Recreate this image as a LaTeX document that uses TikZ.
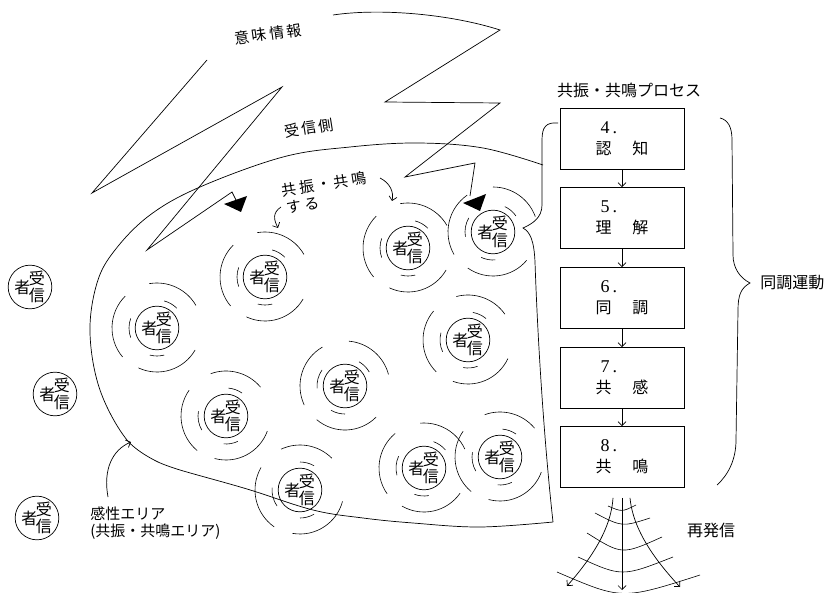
\documentclass[tikz,border=0pt]{standalone}
\usepackage{fontspec}
\setmainfont{Liberation Serif}
\newfontfamily\cjk{Noto Sans CJK JP}
\usetikzlibrary{arrows.meta}
% receiver mark: 者 on the left, 受/信 stacked on the right
\newcommand\jusinsha{\hspace{-1pt}者\hspace{-1.5pt}\raisebox{-0.5em}{\shortstack{受\\信}}}
\newcommand\gap{\hspace{2.5pt}}

\tikzset{
  ripple/.pic={
    % broken rings of arcs around a receiver (visual angles a..b, negated for the flipped y axis)
    \foreach \r/\a/\b in {28/160/200, 28/45/75, 28/255/285,
                          45/135/220, 45/30/100, 44/245/330}
      \draw[line width=0.6pt] (-\a:\r) arc[start angle=-\a, end angle=-\b, radius=\r];
  }
}

\begin{document}
\begin{tikzpicture}[x=1pt,y=-1pt,line width=0.7pt,
  recv/.style={circle,draw,minimum size=41pt,inner sep=0pt,
               font=\cjk\fontsize{16}{16}\selectfont},
  procbox/.style={draw,minimum width=124pt,minimum height=61pt,align=left,
                  inner sep=0pt,font=\fontsize{18}{21}\selectfont},
  jlabel/.style={inner sep=0pt,font=\cjk\fontsize{16}{19}\selectfont},
  tiltlabel/.style={inner sep=0pt,font=\cjk\fontsize{15}{18}\selectfont,rotate=9},
  arealabel/.style={inner sep=0pt,align=left,font=\cjk\fontsize{15}{17}\selectfont},
  barb/.style={-{Straight Barb[length=4pt,width=8pt]}},
  wave/.style={line width=0.6pt},
  bolt/.style={line width=0.7pt,line join=miter}]

\useasboundingbox (0,0) rectangle (826,593);

% ---------- lightning bolts (meaning information) ----------
\draw[bolt] (207,60) -- (92,193) -- (282,87) -- (147,250) -- (232,192) -- (236,200);
\fill (224,204) -- (247,196) -- (241,212) -- cycle;
\draw[bolt] (333,15) .. controls (380,8) and (450,14) .. (500,30)
  -- (385,102) -- (500,103) -- (405,177) -- (475,163) -- (470,196);
\fill (463,203) -- (486,194) -- (480,211) -- cycle;

% ---------- receiving side area ----------
\draw plot[smooth,tension=0.6] coordinates {(543,165) (483,148) (417,143) (350,147)
  (283,157) (200,187) (150,215) (115,250) (97,283) (90,333) (100,390) (127,440) (158,462)};
\draw plot[smooth,tension=0.6] coordinates {(158,462) (180,470) (247,489) (313,510)
  (363,518) (413,523) (480,527) (553,522)};

% left brace of the process, also closing the area on the right
\draw (558,123) .. controls (546,122) and (542,127) .. (542,140) -- (542,205)
  .. controls (542,218) and (532,224) .. (523,228)
  .. controls (530,232) and (534,240) .. (535,262)
  .. controls (538,350) and (545,450) .. (553,522);
% right brace
\draw (720,118) .. controls (728,120) and (732,127) .. (732,140) -- (733,255)
  .. controls (733,268) and (740,278) .. (750,283)
  .. controls (741,288) and (738,295) .. (738,310) -- (736,440)
  .. controls (736,460) and (728,475) .. (717,485);

% ---------- receivers ----------
\foreach \n/\x/\y in {rout1/30/287, rout2/55/394, rout3/37/518,
    rA/265/277, rB/157/328, rC/226/416, rD/345/386, rE/468/340,
    rF/408/248, rG/493/232, rH/300/490, rI/424/468, rJ/500/457}
  \node[recv] (\n) at (\x,\y) {\jusinsha};
\foreach \n/\rot in {rA/0, rB/0, rC/10, rD/-15, rE/5, rF/0, rG/-10, rH/15, rI/-5, rJ/10}
  \pic[rotate=\rot] at (\n) {ripple};

% ---------- labels ----------
\node[tiltlabel,rotate=-1] (imi) at (268,34) {意\gap 味\gap 情\gap 報};
\node[tiltlabel] (jside) at (309,128) {受\gap 信\gap 側};
\node[tiltlabel] (kyo) at (324,184) {共\gap 振\gap ・\gap 共\gap 鳴};
\node[tiltlabel] (suru) at (303,205) {す\gap る};
\node[arealabel,anchor=west] (area) at (90,523) {感性エリア\\(共振・共鳴エリア)};
\node[jlabel] (proc) at (629,90) {共振・共鳴プロセス};
\node[jlabel,anchor=west] (dochou) at (760,283) {同調運動};
\node[jlabel] (resend) at (711,530) {再発信};

\coordinate (k1s) at (281,207); \coordinate (k1e) at (278,228);
\coordinate (k2s) at (380,178); \coordinate (k2e) at (392,201);
\coordinate (a3s) at (108,497); \coordinate (a3e) at (131,442);
\draw[barb] (k1s) .. controls (272,213) and (274,220) .. (k1e);
\draw[barb] (k2s) .. controls (390,183) and (394,192) .. (k2e);
\draw[barb] (a3s) .. controls (103,470) and (112,450) .. (a3e);

% ---------- process boxes ----------
\node[procbox] (p4) at (622,139) {\hspace{5pt}4\hspace{3pt}.\\{\cjk\fontsize{16}{21}\selectfont 認\hspace{1.3em}知}};
\node[procbox] (p5) at (622,218) {\hspace{5pt}5\hspace{3pt}.\\{\cjk\fontsize{16}{21}\selectfont 理\hspace{1.3em}解}};
\node[procbox] (p6) at (622,298) {\hspace{5pt}6\hspace{3pt}.\\{\cjk\fontsize{16}{21}\selectfont 同\hspace{1.3em}調}};
\node[procbox] (p7) at (622,378) {\hspace{5pt}7\hspace{3pt}.\\{\cjk\fontsize{16}{21}\selectfont 共\hspace{1.3em}感}};
\node[procbox] (p8) at (622,457) {\hspace{5pt}8\hspace{3pt}.\\{\cjk\fontsize{16}{21}\selectfont 共\hspace{1.3em}鳴}};
\draw[barb] (p4) -- (p5);
\draw[barb] (p5) -- (p6);
\draw[barb] (p6) -- (p7);
\draw[barb] (p7) -- (p8);

% ---------- re-transmission fan ----------
\coordinate (fanC) at (622,590);
\coordinate (fanL) at (567,586);
\coordinate (fanR) at (680,587);
\draw[barb] ([yshift=-10pt]p8.south) -- (fanC);
\draw[barb] ([xshift=-9pt,yshift=-10pt]p8.south) .. controls (611,530) and (590,560) .. (fanL);
\draw[barb] ([xshift=8pt,yshift=-10pt]p8.south) .. controls (633,530) and (655,560) .. (fanR);
\draw[wave] (608,506) .. controls (622,512) .. (636,505);
\draw[wave] (595,513) .. controls (622,527) .. (650,518);
\draw[wave] (587,533) .. controls (622,555) .. (662,537);
\draw[wave] (578,557) .. controls (622,577) .. (673,557);
\draw[wave] (557,572) .. controls (622,600) .. (700,575);
\end{tikzpicture}
\end{document}
